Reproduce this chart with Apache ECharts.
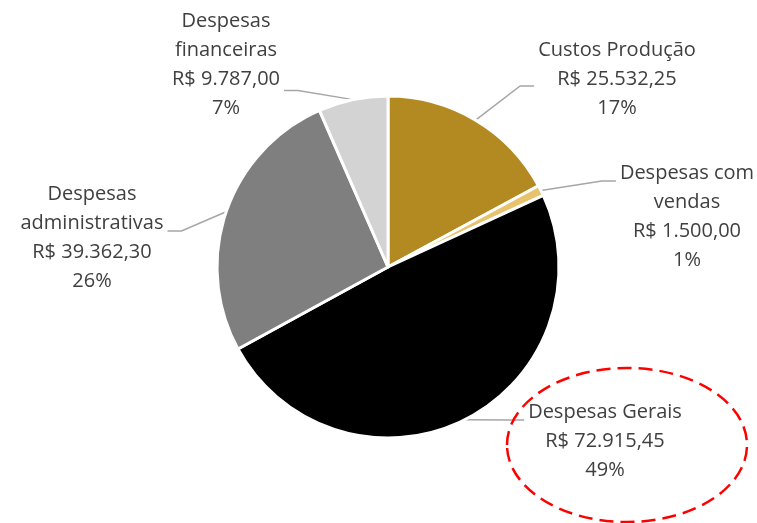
<!DOCTYPE html>
<html>
<head>
<meta charset="utf-8">
<script src="https://cdn.jsdelivr.net/npm/echarts@6/dist/echarts.min.js"></script>
<style>html,body{margin:0;padding:0;background:#fff}#c{width:757px;height:523px}</style>
</head>
<body>
<div id="c"></div>
<script>
const categories = ['Custos Produção', 'Despesas com\nvendas', 'Despesas Gerais', 'Despesas\nadministrativas', 'Despesas\nfinanceiras'];
const values = [25532.25, 1500.00, 72915.45, 39362.30, 9787.00];
const colors = ['#B38A22', '#E8C36E', '#000000', '#7F7F7F', '#D3D3D3'];
const labelPos = [[617, 79], [687, 217], [605, 441], [92, 238], [226, 65]];
// which side of the label the leader line joins, and at what fraction of its height
const lineJoin = [['left', 0.58], ['left', 0.19], ['left', 0.26], ['right', 0.44], ['right', 0.72]];

const fmt = v => 'R$ ' + v.toLocaleString('pt-BR', {minimumFractionDigits: 2, maximumFractionDigits: 2});

const chart = echarts.init(document.getElementById('c'));
chart.setOption({
  animation: false,
  series: [{
    type: 'pie',
    center: [388, 267],
    radius: [0, 171],
    startAngle: 90,
    clockwise: true,
    data: categories.map((c, i) => ({name: c, value: values[i], itemStyle: {color: colors[i]}})),
    itemStyle: {borderColor: '#fff', borderWidth: 3},
    label: {
      show: true,
      formatter: p => p.name + '\n' + fmt(p.value) + '\n' + Math.round(p.percent) + '%',
      fontFamily: 'Open Sans',
      fontSize: 20,
      lineHeight: 29,
      color: '#404040',
      align: 'center'
    },
    labelLine: {show: true, length: 20, length2: 12, lineStyle: {color: '#A6A6A6', width: 1.5}},
    labelLayout: p => {
      const i = p.dataIndex;
      const [x, y] = labelPos[i];
      const w = p.labelRect.width, h = p.labelRect.height;
      const left = x - w / 2, top = y - h / 2;
      const [side, frac] = lineJoin[i];
      const ey = top + h * frac;
      const ex = side === 'left' ? left - 4 : left + w + 4;
      const mx = side === 'left' ? ex - 14 : ex + 14;
      const out = {x: x, y: y, align: 'center', verticalAlign: 'middle'};
      if (p.labelLinePoints) {
        out.labelLinePoints = [p.labelLinePoints[0], [mx, ey], [ex, ey]];
      }
      return out;
    }
  }],
  graphic: [{
    type: 'ellipse',
    shape: {cx: 627, cy: 445, rx: 120, ry: 77},
    style: {fill: 'none', stroke: '#FF0000', lineWidth: 2.5, lineDash: [14, 7]},
    z: 100
  }]
});
</script>
</body>
</html>
